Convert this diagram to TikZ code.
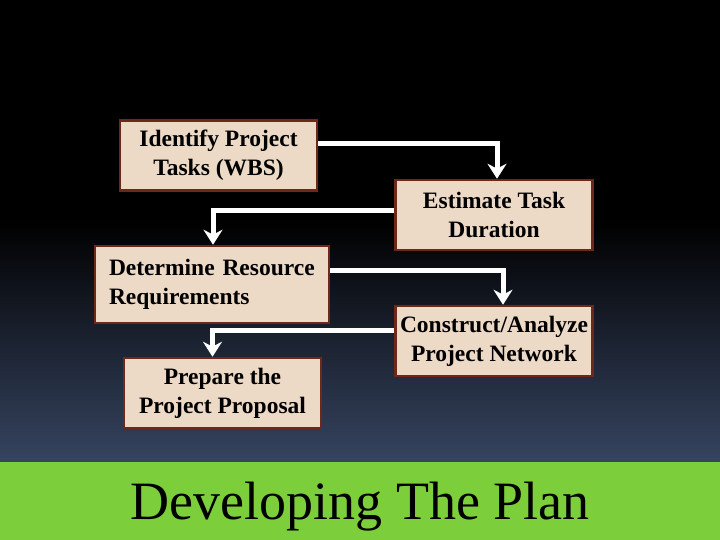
\documentclass[tikz,border=0pt]{standalone}
\usepackage{fontspec}
\setmainfont{Liberation Serif}
\usetikzlibrary{arrows.meta}
\definecolor{boxfill}{RGB}{236,217,198}
\definecolor{boxline}{RGB}{110,40,25}
\definecolor{bandgreen}{RGB}{124,207,58}
\definecolor{deepblue}{RGB}{54,68,96}
\tikzset{
    > = {Stealth[length=15pt,width=19pt]},
    taskbox/.style = {draw = boxline, line width = 2.5pt, fill = boxfill,
        font = \fontsize{23.5}{29}\selectfont\bfseries, align = center,
        inner sep = 0pt, minimum width = 197pt, minimum height = 70pt},
    flow/.style = {->, draw = white, line width = 5pt}
}

\begin{document}
\begin{tikzpicture}[x = 1pt, y = -1pt]
    \useasboundingbox (0, 0) rectangle (720, 540);
    \fill[black] (0, 0) rectangle (720, 221);
    \shade[top color = black, bottom color = deepblue]
        (0, 220) rectangle (720, 462);
    \fill[bandgreen] (0, 462) rectangle (720, 540);

    \node[taskbox] (wbs) at (218.5, 155.5) {Identify Project\\Tasks (WBS)};
    \node[taskbox] (dur) at (494, 215) {Estimate Task\\Duration};
    \node[taskbox, minimum width = 234pt, minimum height = 77pt, align = left,
        text width = 206pt] (res) at (212, 284.5) {Determine Resource\\Requirements};
    \node[taskbox] (net) at (494, 341) {Construct/Analyze\\Project Network};
    \node[taskbox] (prop) at (222.5, 393) {Prepare the\\Project Proposal};

    \node (title) at (360, 507) {\fontsize{54}{60}\selectfont Developing The Plan};

    \draw[flow] ([yshift = 12pt] wbs.east) -| ([xshift = 3pt] dur.north);
    \draw[flow] ([yshift = 4pt] dur.west) -| ([xshift = 1pt] res.north);
    \draw[flow] ([yshift = 14pt] res.east) -| ([xshift = 9pt] net.north);
    \draw[flow] ([yshift = 11pt] net.west) -| ([xshift = -10pt] prop.north);
\end{tikzpicture}
\end{document}
